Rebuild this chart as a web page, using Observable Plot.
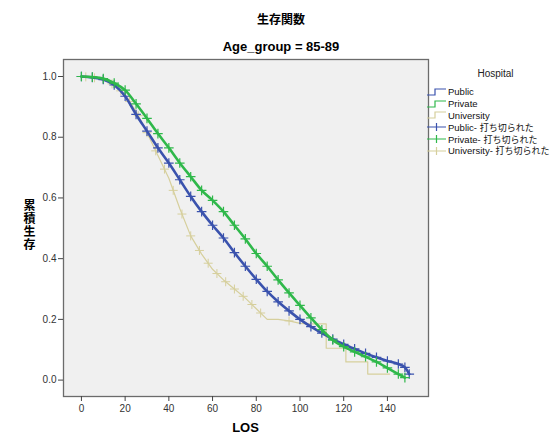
<!DOCTYPE html>
<html>
<head>
<meta charset="utf-8">
<script src="https://cdn.jsdelivr.net/npm/d3@7"></script>
<script src="https://cdn.jsdelivr.net/npm/@observablehq/plot@0.6"></script>
<style>
  body { margin: 0; background: #fff; }
  #wrap { position: relative; width: 557px; height: 434px; font-family: "Liberation Sans", Arial, sans-serif; }
  .t { position: absolute; white-space: nowrap; color: #000; }
  #title { left: 0; width: 562px; top: 10px; text-align: center; font: bold 12px "Noto Sans CJK JP", sans-serif; }
  #sub { left: 0; width: 562px; top: 39px; text-align: center; font: bold 13px "Liberation Sans", Arial, sans-serif; }
  #ylab { left: 22px; top: 199px; writing-mode: vertical-rl; text-orientation: upright; font: bold 12px "Noto Sans CJK JP", sans-serif; letter-spacing: 1px; line-height: 14px; }
  #xlab { left: 63px; width: 365px; top: 420px; text-align: center; font: bold 13px "Liberation Sans", Arial, sans-serif; }
  #legend { position: absolute; left: 426px; top: 65px; width: 131px; }
  #legend .head { text-align: center; font: 10px "Liberation Sans", Arial, sans-serif; color: #222; margin-left: 8px; height: 18px; line-height: 18px; margin-bottom: 3px; }
  #legend .row { display: flex; align-items: center; height: 11.8px; font: 9.5px "Liberation Sans", Arial, sans-serif; color: #111; white-space: nowrap; }
  #legend .row svg { flex: none; margin-right: 1px; }
  #legend .jp { font-family: "Noto Sans CJK JP", sans-serif; font-size: 9px; }
</style>
</head>
<body>
<div id="wrap">
  <div id="chart"></div>
  <div class="t" id="title">生存関数</div>
  <div class="t" id="sub">Age_group = 85-89</div>
  <div class="t" id="ylab">累積生存</div>
  <div class="t" id="xlab">LOS</div>
  <div id="legend"></div>
</div>
<script>
// ---- data ----
const groups = ["Public", "Private", "University"];
const groupColors = ["#3a52ad", "#2fb84a", "#d6cf9c"];
const censorLabel = "打ち切られた";

const publicLOS  = [0, 5, 10, 15, 20, 25, 30, 35, 40, 45, 50, 55, 60, 65, 70, 75, 80, 85, 90, 95, 100, 105, 110, 115, 120, 125, 130, 135, 140, 145, 148, 150];
const publicSurv = [1.0, 0.997, 0.99, 0.972, 0.935, 0.875, 0.82, 0.765, 0.715, 0.66, 0.605, 0.555, 0.51, 0.468, 0.42, 0.375, 0.332, 0.292, 0.258, 0.228, 0.2, 0.176, 0.155, 0.135, 0.118, 0.103, 0.088, 0.075, 0.063, 0.053, 0.042, 0.02];

const privateLOS  = [0, 5, 10, 15, 20, 25, 30, 35, 40, 45, 50, 55, 60, 65, 70, 75, 80, 85, 90, 95, 100, 105, 110, 115, 120, 125, 130, 135, 140, 145, 148];
const privateSurv = [1.0, 0.998, 0.993, 0.978, 0.955, 0.91, 0.862, 0.812, 0.765, 0.715, 0.67, 0.625, 0.592, 0.555, 0.51, 0.465, 0.417, 0.375, 0.33, 0.287, 0.246, 0.205, 0.166, 0.132, 0.11, 0.093, 0.077, 0.06, 0.04, 0.02, 0.008];

const univLOS  = [0, 5, 10, 15, 20, 25, 30, 35, 40, 45, 50, 55, 60, 65, 70, 75, 80, 85, 90, 95, 100, 104, 112, 112, 121, 121, 131, 131, 141];
const univSurv = [1.0, 0.997, 0.99, 0.972, 0.94, 0.885, 0.815, 0.74, 0.665, 0.565, 0.475, 0.415, 0.365, 0.33, 0.3, 0.27, 0.235, 0.2, 0.2, 0.195, 0.187, 0.185, 0.185, 0.105, 0.105, 0.06, 0.06, 0.02, 0.02];
const univCensorLOS = [2, 6, 10, 14, 18, 22, 26, 30, 34, 38, 42, 46, 50, 54, 58, 62, 66, 70, 74, 78, 82, 95];

const xTicks = [0, 20, 40, 60, 80, 100, 120, 140];
const yTicks = [0.0, 0.2, 0.4, 0.6, 0.8, 1.0];

// ---- build table ----
function rows(los, surv, g) { return los.map((x, i) => ({ g, x, s: surv[i] })); }
const pub = rows(publicLOS, publicSurv, "Public");
const pri = rows(privateLOS, privateSurv, "Private");
const uni = rows(univLOS, univSurv, "University");
// University censor marks placed on the drawn curve at each censored LOS
const uniCens = univCensorLOS.map(x => {
  let i = 0; while (i + 1 < univLOS.length && univLOS[i + 1] <= x) i++;
  const j = Math.min(i + 1, univLOS.length - 1);
  const x0 = univLOS[i], x1 = univLOS[j], s0 = univSurv[i], s1 = univSurv[j];
  const s = x1 === x0 ? s0 : s0 + (s1 - s0) * (x - x0) / (x1 - x0);
  return { g: "University", x, s };
});

const chart = Plot.plot({
  width: 557,
  height: 434,
  marginLeft: 63,
  marginRight: 129,
  marginTop: 59,
  marginBottom: 38,
  style: { fontFamily: "'Liberation Sans', Arial, sans-serif", fontSize: "10px", background: "transparent", color: "#333" },
  x: { domain: [-8.2, 158.8] },
  y: { domain: [-0.054, 1.056] },
  color: { domain: groups, range: groupColors },
  marks: [
    Plot.frame({ fill: "#f0f0f0", stroke: "none" }),
    Plot.line(uni, { x: "x", y: "s", stroke: "g", strokeWidth: 1.2 }),
    Plot.dot(uniCens, { x: "x", y: "s", stroke: "g", symbol: "plus", r: 3, strokeWidth: 1 }),
    Plot.line(pub, { x: "x", y: "s", stroke: "g", strokeWidth: 2.6, curve: "monotone-x" }),
    Plot.dot(pub, { x: "x", y: "s", stroke: "g", symbol: "plus", r: 3.2, strokeWidth: 1.2 }),
    Plot.line(pri, { x: "x", y: "s", stroke: "g", strokeWidth: 2.6, curve: "monotone-x" }),
    Plot.dot(pri, { x: "x", y: "s", stroke: "g", symbol: "plus", r: 3.2, strokeWidth: 1.2 }),
    Plot.frame({ stroke: "#6b6b6b", strokeWidth: 1.3 }),
    Plot.axisX({ ticks: xTicks, tickSize: 5, tickPadding: 3, label: null, stroke: "#444", fill: "#333" }),
    Plot.axisY({ ticks: yTicks, tickSize: 5, tickPadding: 2, tickFormat: d3.format(".1f"), label: null, stroke: "#444", fill: "#333" })
  ]
});
document.getElementById("chart").appendChild(chart);

// ---- legend ----
const leg = document.getElementById("legend");
const head = document.createElement("div"); head.className = "head"; head.textContent = "Hospital"; leg.appendChild(head);
function addRow(label, col, kind) {
  const r = document.createElement("div"); r.className = "row";
  const ns = "http://www.w3.org/2000/svg";
  const s = document.createElementNS(ns, "svg"); s.setAttribute("width", 21); s.setAttribute("height", 10);
  const p = document.createElementNS(ns, "path");
  p.setAttribute("fill", "none"); p.setAttribute("stroke", col); p.setAttribute("stroke-width", 1.2);
  p.setAttribute("d", kind === "step" ? "M1,8H9V2H20" : "M1,5H20M10.5,1V9");
  s.appendChild(p); r.appendChild(s);
  const sp = document.createElement("span");
  if (kind === "step") sp.textContent = label;
  else sp.innerHTML = label + "- <span class='jp'>" + censorLabel + "</span>";
  r.appendChild(sp); leg.appendChild(r);
}
groups.forEach((g, i) => addRow(g, groupColors[i], "step"));
groups.forEach((g, i) => addRow(g, groupColors[i], "plus"));
</script>
</body>
</html>
